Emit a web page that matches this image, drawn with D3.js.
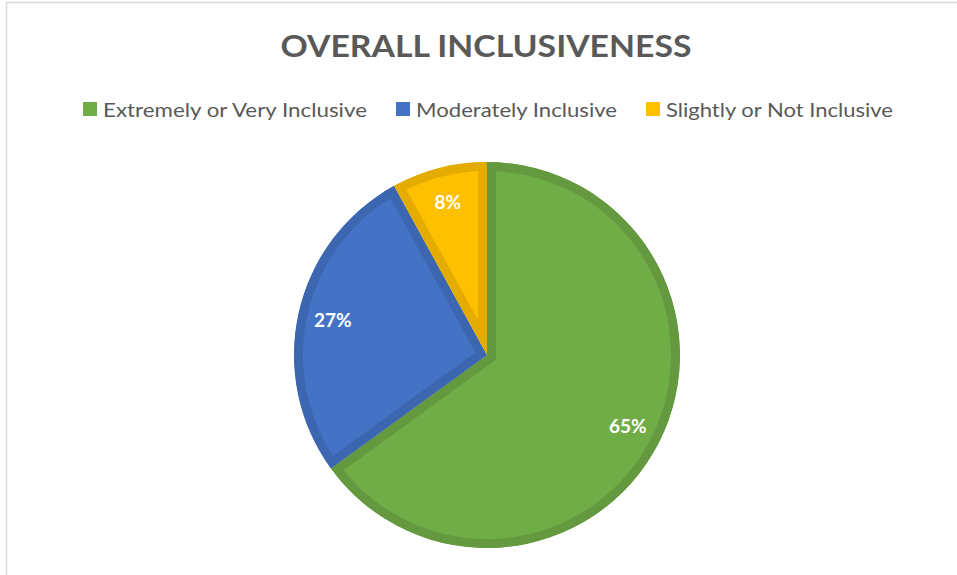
<!DOCTYPE html>
<html>
<head>
<meta charset="utf-8">
<script src="https://cdn.jsdelivr.net/npm/d3@7"></script>
<style>
  html, body { margin: 0; padding: 0; background: #fff; }
  svg { display: block; }
</style>
</head>
<body>
<svg id="chart" width="957" height="575"></svg>
<script>
const title = "OVERALL INCLUSIVENESS";
const categories = ["Extremely or Very Inclusive", "Moderately Inclusive", "Slightly or Not Inclusive"];
const values = [65, 27, 8];
const labels = ["65%", "27%", "8%"];
const colors = ["#70AD47", "#4472C4", "#FFC000"];
const strokeColors = ["#64993F", "#3D66B0", "#E5AC00"];

const W = 957, H = 575;
const svg = d3.select("#chart");
const font = "Lato, 'Open Sans', 'DejaVu Sans', sans-serif";

// chart border
svg.append("rect").attr("x", 6.5).attr("y", 2.5).attr("width", W + 10).attr("height", H + 10)
  .attr("fill", "none").attr("stroke", "#d9d9d9").attr("stroke-width", 1.5);

// title
svg.append("text").attr("x", 486).attr("y", 57).attr("text-anchor", "middle")
  .attr("font-family", font).attr("font-weight", "bold").attr("font-size", 31)
  .attr("fill", "#595959").attr("textLength", 411).attr("lengthAdjust", "spacingAndGlyphs")
  .text(title);

// legend
const legendX = [83, 396, 646];
const legendW = [264, 201, 227];
const lg = svg.append("g");
categories.forEach((c, i) => {
  lg.append("rect").attr("x", legendX[i]).attr("y", 102).attr("width", 14).attr("height", 14)
    .attr("fill", colors[i]);
  lg.append("text").attr("x", legendX[i] + 20).attr("y", 117)
    .attr("font-family", font).attr("font-size", 20).attr("fill", "#595959")
    .attr("textLength", legendW[i]).attr("lengthAdjust", "spacingAndGlyphs")
    .text(c);
});

// pie
const cx = 487, cy = 355, R = 193, sw = 9;
const pie = d3.pie().sort(null).value(d => d);
const arcs = pie(values);
const arc = d3.arc().innerRadius(0).outerRadius(R);
const labelArc = d3.arc().innerRadius(158).outerRadius(158);

const defs = svg.append("defs");
arcs.forEach((a, i) => {
  defs.append("clipPath").attr("id", "clip" + i)
    .append("path").attr("d", arc(a));
});
const g = svg.append("g").attr("transform", `translate(${cx},${cy})`);
g.selectAll("path.slice").data(arcs).enter().append("path")
  .attr("class", "slice")
  .attr("d", arc)
  .attr("clip-path", (d, i) => `url(#clip${i})`)
  .attr("fill", (d, i) => colors[i])
  .attr("stroke", (d, i) => strokeColors[i])
  .attr("stroke-width", sw * 2)
  .attr("stroke-linejoin", "miter");

g.selectAll("text.lbl").data(arcs).enter().append("text")
  .attr("class", "lbl")
  .attr("transform", d => `translate(${labelArc.centroid(d)})`)
  .attr("text-anchor", "middle").attr("dy", "0.35em")
  .attr("font-family", font).attr("font-weight", "bold").attr("font-size", 19)
  .attr("fill", "#fff")
  .text((d, i) => labels[i]);
</script>
</body>
</html>
